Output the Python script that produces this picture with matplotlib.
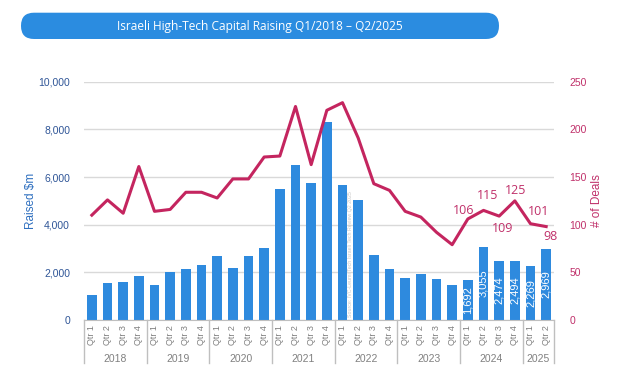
import matplotlib
matplotlib.use("Agg")
import matplotlib.pyplot as plt
from matplotlib.patches import FancyBboxPatch
from matplotlib.lines import Line2D
import numpy as np

# ---------------- data ----------------
years = ["2018", "2019", "2020", "2021", "2022", "2023", "2024", "2025"]
quarters_per_year = [4, 4, 4, 4, 4, 4, 4, 2]
quarter_names = ["Qtr 1", "Qtr 2", "Qtr 3", "Qtr 4"]
raised = [1050, 1540, 1600, 1850,
          1470, 2000, 2130, 2300,
          2700, 2170, 2700, 3010,
          5500, 6510, 5740, 8290,
          5670, 5040, 2730, 2160,
          1750, 1930, 1720, 1460,
          1692, 3055, 2474, 2494,
          2269, 2969]
deals = [110, 126, 112, 161,
         114, 116, 134, 134,
         128, 148, 148, 171,
         172, 224, 163, 220,
         228, 191, 143, 136,
         114, 108, 92, 79,
         106, 115, 109, 125,
         101, 98]
bar_label_idx = [24, 25, 26, 27, 28, 29]
deal_label_idx = [24, 25, 26, 27, 28, 29]
deal_label_offsets = [(-4, 8), (4, 15), (3, -12), (1, 10), (8, 12), (4, -10)]
title = "Israeli High-Tech Capital Raising Q1/2018 \u2013 Q2/2025"
source = "Source: IVC-Leumi Tech Israeli Tech Review Q2 2025"

# ---------------- style ----------------
BAR = "#2e8ade"
LINE = "#c4255f"
LBLUE = "#2f5597"
AXBLUE = "#2e6fbf"
PINK = "#c0306a"
GRAY = "#808080"
SEP = "#bfbfbf"
plt.rcParams["font.family"] = ["Liberation Sans", "DejaVu Sans"]

W, H = 627, 380
fig = plt.figure(figsize=(W / 100, H / 100), dpi=100)

# title pill
bg = fig.add_axes([0, 0, 1, 1], zorder=-5)
bg.set_xlim(0, W)
bg.set_ylim(H, 0)
bg.axis("off")
bg.add_patch(FancyBboxPatch((21, 12.7), 478, 26.3,
                            boxstyle="round,pad=0,rounding_size=13",
                            facecolor="#2b8ce0", edgecolor="none"))
bg.text(260, 26.5, title, ha="center", va="center", color="white",
        fontsize=8.6, family=["Open Sans", "DejaVu Sans"])

ax = fig.add_axes([84 / W, 60 / H, 470 / W, 238.3 / H])
n = len(raised)
x = np.arange(n)
ax.bar(x, raised, width=0.6, color=BAR, zorder=2)
ax.set_xlim(-0.5, n - 0.5)
ax.set_ylim(0, 10000)
ax.set_yticks(range(0, 10001, 2000))
ax.set_yticklabels([f"{v:,}" for v in range(0, 10001, 2000)])
ax.tick_params(axis="y", length=0, pad=10, labelsize=7.5, labelcolor=LBLUE)
ax.set_xticks([])
ax.grid(axis="y", color="#d9d9d9", lw=1, zorder=0)
for s in ["top", "right", "left"]:
    ax.spines[s].set_visible(False)
ax.spines["bottom"].set_color(SEP)
ax.set_ylabel("Raised $m", color=AXBLUE, fontsize=8.5, labelpad=1)

# bar labels
for i in bar_label_idx:
    ax.text(x[i], raised[i] / 2, f"{raised[i]:,}", rotation=90, ha="center",
            va="center", color="white", fontsize=8, zorder=4)

# source text
ax.text(16.5, 120, source, rotation=90, ha="center", va="bottom",
        color="#c8c8c8", fontsize=3.8, zorder=4)

# multi-level x axis
xt = ax.get_xaxis_transform()
pos = 0
bounds = [-0.5]
for yr, nq in zip(years, quarters_per_year):
    for q in range(nq):
        ax.annotate(quarter_names[q], xy=(pos + q, 0), xycoords=xt,
                    xytext=(0, -5), textcoords="offset pixels",
                    rotation=90, ha="center", va="top", color=GRAY, fontsize=6.5)
    ax.annotate(yr, xy=(pos + (nq - 1) / 2, 0), xycoords=xt,
                xytext=(0, -39), textcoords="offset pixels",
                ha="center", va="center", color=GRAY, fontsize=7.5)
    pos += nq
    bounds.append(pos - 0.5)
for b in bounds:
    ax.add_line(Line2D([b, b], [0, -0.182], transform=xt, color=SEP,
                       lw=1, clip_on=False))

# deals line
ax2 = ax.twinx()
ax2.plot(x, deals, color=LINE, lw=2.2, zorder=5)
ax2.set_ylim(0, 250)
ax2.set_yticks(range(0, 251, 50))
ax2.tick_params(axis="y", length=0, pad=11, labelsize=7.5, labelcolor=PINK)
for s in ["top", "right", "left", "bottom"]:
    ax2.spines[s].set_visible(False)
ax2.set_ylabel("# of Deals", color=PINK, fontsize=8.5, labelpad=3)
for i, off in zip(deal_label_idx, deal_label_offsets):
    ax2.annotate(str(deals[i]), xy=(x[i], deals[i]), xytext=off,
                 textcoords="offset pixels", ha="center", va="center",
                 color=PINK, fontsize=9, family=["Open Sans", "DejaVu Sans"])

fig.savefig("out.png", dpi=100)
